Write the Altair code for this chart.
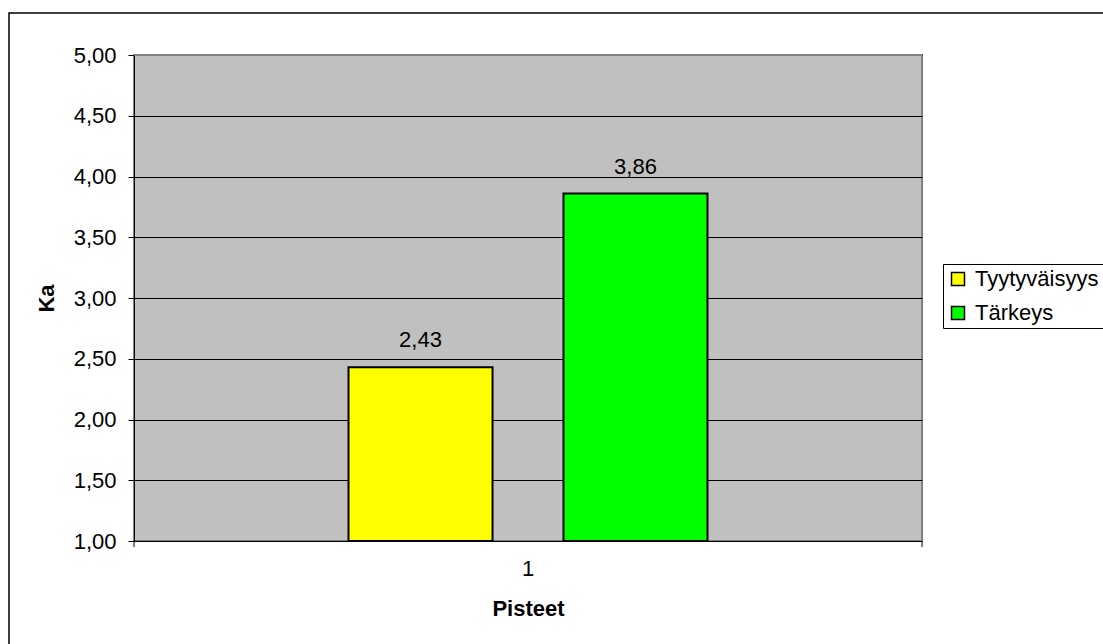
import altair as alt
import pandas as pd

# Chart data
categories = ["1"]
series = ["Tyytyväisyys", "Tärkeys"]
values = [2.43, 3.86]
colors = ["#FFFF00", "#00FF00"]
y_ticks = [1.0, 1.5, 2.0, 2.5, 3.0, 3.5, 4.0, 4.5, 5.0]
y_min, y_max = 1.0, 5.0

df = pd.DataFrame({
    "Pisteet": categories * len(series),
    "Sarja": series,
    "Ka": values,
})
df["label"] = [f"{v:.2f}".replace(".", ",") for v in values]

W, H = 788, 486
FONT = "Liberation Sans"
FS = 22

x_scale = alt.Scale(paddingInner=0, paddingOuter=0.5975)
xo_scale = alt.Scale(domain=series, paddingInner=0.33, paddingOuter=0)
y_scale = alt.Scale(domain=[y_min, y_max], nice=False, zero=False)

base = alt.Chart(df).encode(
    x=alt.X(
        "Pisteet:N",
        scale=x_scale,
        axis=alt.Axis(
            title="Pisteet", labelAngle=0, ticks=False, domainColor="black",
            domainWidth=1, labelPadding=17, titlePadding=19, grid=False,
        ),
    ),
    xOffset=alt.XOffset("Sarja:N", scale=xo_scale, sort=series),
    y=alt.Y(
        "Ka:Q",
        scale=y_scale,
        axis=alt.Axis(
            title="Ka", values=y_ticks,
            labelExpr="replace(format(datum.value, '.2f'), '.', ',')",
            tickSize=6, tickColor="black", labelPadding=12, titlePadding=15,
            domainColor="black", grid=True, gridColor="black", gridWidth=1,
        ),
    ),
)

bars = base.mark_bar(stroke="black", strokeWidth=2).encode(
    y2=alt.datum(y_min),
    color=alt.Color(
        "Sarja:N",
        scale=alt.Scale(domain=series, range=colors),
        sort=series,
        legend=alt.Legend(
            title=None, orient="none", legendX=809, legendY=209,
            strokeColor="black", fillColor="white", padding=4,
            symbolType="square", symbolSize=169, symbolStrokeColor="black",
            symbolStrokeWidth=1.5, labelFont=FONT, labelFontSize=FS,
            labelColor="black", rowPadding=12, labelOffset=6,
        ),
    ),
)

texts = base.mark_text(
    dy=-20, baseline="alphabetic", font=FONT, fontSize=FS, color="black"
).encode(text="label:N")

one = pd.DataFrame({"k": [0]})

# Gray frame edge along the top of the plot area
top_edge = alt.Chart(one).mark_rule(color="#808080", strokeWidth=2).encode(
    x=alt.value(0), x2=alt.value(W), y=alt.value(0)
)

# Category axis tick marks at both ends
tick_left = alt.Chart(one).mark_rule(color="black", strokeWidth=1).encode(
    x=alt.value(0), y=alt.value(H), y2=alt.value(H + 6)
)
tick_right = alt.Chart(one).mark_rule(color="black", strokeWidth=1).encode(
    x=alt.value(W), y=alt.value(H), y2=alt.value(H + 6)
)

# Outer chart border
border = alt.Chart(one).mark_rect(
    fillOpacity=0, stroke="black", strokeWidth=1.5
).encode(
    x=alt.value(-125), x2=alt.value(W + 400),
    y=alt.value(-42), y2=alt.value(H + 400),
)

chart = alt.layer(border, bars, texts, top_edge, tick_left, tick_right).properties(
    width=W,
    height=H,
    autosize=alt.AutoSizeParams(type="none"),
    padding={"left": 134, "top": 55, "right": 181, "bottom": 103},
    background="white",
).configure_view(
    fill="#C0C0C0", stroke="#808080", strokeWidth=2
).configure_axis(
    labelFont=FONT, labelFontSize=FS, labelColor="black",
    titleFont=FONT, titleFontSize=FS, titleColor="black", titleFontWeight="bold",
)

chart.save("out.html", embed_options={"renderer": "svg", "actions": False})
